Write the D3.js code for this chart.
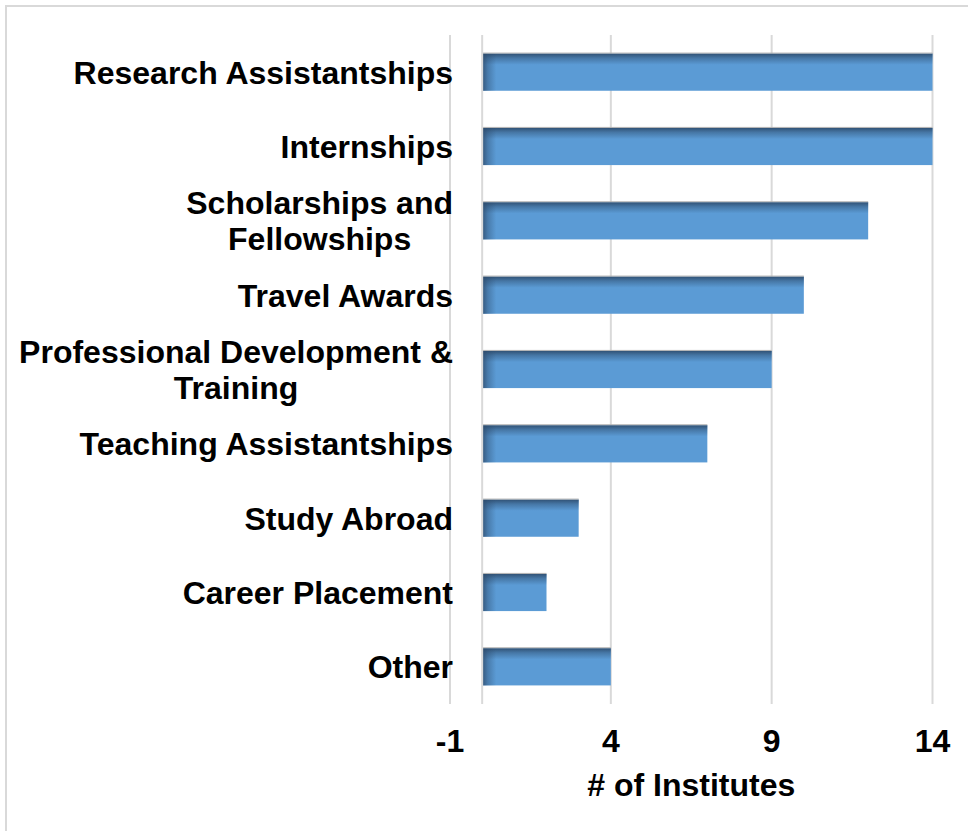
<!DOCTYPE html>
<html>
<head>
<meta charset="utf-8">
<script src="https://cdn.jsdelivr.net/npm/d3@7"></script>
<style>
html,body{margin:0;padding:0;background:#fff;}
svg{display:block;font-family:"Liberation Sans",Arial,sans-serif;}
</style>
</head>
<body>
<svg id="chart" width="968" height="831"></svg>
<script>
const categories = [
  ["Research Assistantships"],
  ["Internships"],
  ["Scholarships and", "Fellowships"],
  ["Travel Awards"],
  ["Professional Development &", "Training"],
  ["Teaching Assistantships"],
  ["Study Abroad"],
  ["Career Placement"],
  ["Other"]
];
const values = [14, 14, 12, 10, 9, 7, 3, 2, 4];
const tickValues = [-1, 4, 9, 14];
const tickLabels = ["-1", "4", "9", "14"];
const axisTitle = "# of Institutes";

const svg = d3.select("#chart");
const defs = svg.append("defs");

// chart border
svg.append("rect").attr("x", 6).attr("y", 6).attr("width", 980).attr("height", 840)
  .attr("fill", "none").attr("stroke", "#d9d9d9").attr("stroke-width", 2);

const x = d3.scaleLinear().domain([-1, 14]).range([450, 932.5]);
const y = d3.scaleBand().domain(d3.range(categories.length)).range([35, 704]).paddingInner(0.5).paddingOuter(0.25);

// gridlines
svg.append("g").selectAll("line").data(tickValues).join("line")
  .attr("x1", d => x(d)).attr("x2", d => x(d))
  .attr("y1", 35).attr("y2", 704)
  .attr("stroke", "#d9d9d9").attr("stroke-width", 2);

// gradients
const gv = defs.append("linearGradient").attr("id", "gv").attr("x1", 0).attr("y1", 0).attr("x2", 0).attr("y2", 1);
gv.append("stop").attr("offset", "0%").attr("stop-color", "#2c4a6b").attr("stop-opacity", 0.9);
gv.append("stop").attr("offset", "12%").attr("stop-color", "#2c4a6b").attr("stop-opacity", 0.45);
gv.append("stop").attr("offset", "30%").attr("stop-color", "#2c4a6b").attr("stop-opacity", 0);
gv.append("stop").attr("offset", "100%").attr("stop-color", "#2c4a6b").attr("stop-opacity", 0);

// bars
const bars = svg.append("g");
values.forEach((v, i) => {
  const bx = x(0), bw = x(v) - x(0), by = y(i), bh = y.bandwidth();
  const gid = "gh" + i;
  const frac = Math.min(14 / bw, 0.5);
  const gh = defs.append("linearGradient").attr("id", gid).attr("x1", 0).attr("y1", 0).attr("x2", 1).attr("y2", 0);
  gh.append("stop").attr("offset", 0).attr("stop-color", "#2c4a6b").attr("stop-opacity", 0.85);
  gh.append("stop").attr("offset", frac * 0.4).attr("stop-color", "#2c4a6b").attr("stop-opacity", 0.4);
  gh.append("stop").attr("offset", frac).attr("stop-color", "#2c4a6b").attr("stop-opacity", 0);
  gh.append("stop").attr("offset", 1).attr("stop-color", "#2c4a6b").attr("stop-opacity", 0);
  bars.append("rect").attr("x", bx).attr("y", by).attr("width", bw).attr("height", bh).attr("fill", "#5b9bd5");
  bars.append("rect").attr("x", bx).attr("y", by).attr("width", bw).attr("height", bh).attr("fill", "url(#gv)");
  bars.append("rect").attr("x", bx).attr("y", by).attr("width", bw).attr("height", bh).attr("fill", "url(#" + gid + ")");
  bars.append("line").attr("x1", bx).attr("x2", bx + bw).attr("y1", by - 0.5).attr("y2", by - 0.5)
    .attr("stroke", "#b0b0b0").attr("stroke-width", 1);
});

// zero axis line
svg.append("line").attr("x1", x(0)).attr("x2", x(0)).attr("y1", 35).attr("y2", 704)
  .attr("stroke", "#d9d9d9").attr("stroke-width", 2);

// category labels: block right-aligned, lines centred within block
const labels = svg.append("g").attr("font-size", 32).attr("font-weight", "bold").attr("fill", "#000");
categories.forEach((lines, i) => {
  const cy = y(i) + y.bandwidth() / 2;
  const n = lines.length;
  const nodes = lines.map((ln, j) =>
    labels.append("text").attr("y", cy + (j - (n - 1) / 2) * 36 + 11.5).text(ln));
  const maxW = d3.max(nodes, t => t.node().getComputedTextLength());
  nodes.forEach(t => t.attr("text-anchor", "middle").attr("x", 453 - maxW / 2));
});

// tick labels
svg.append("g").attr("font-size", 32).attr("font-weight", "bold").attr("text-anchor", "middle")
  .selectAll("text").data(tickValues).join("text")
  .attr("x", d => x(d)).attr("y", 752).text((d, i) => tickLabels[i]);

// axis title
svg.append("text").attr("x", (x(-1) + x(14)) / 2).attr("y", 796).attr("font-size", 32)
  .attr("font-weight", "bold").attr("text-anchor", "middle").text(axisTitle);
</script>
</body>
</html>
